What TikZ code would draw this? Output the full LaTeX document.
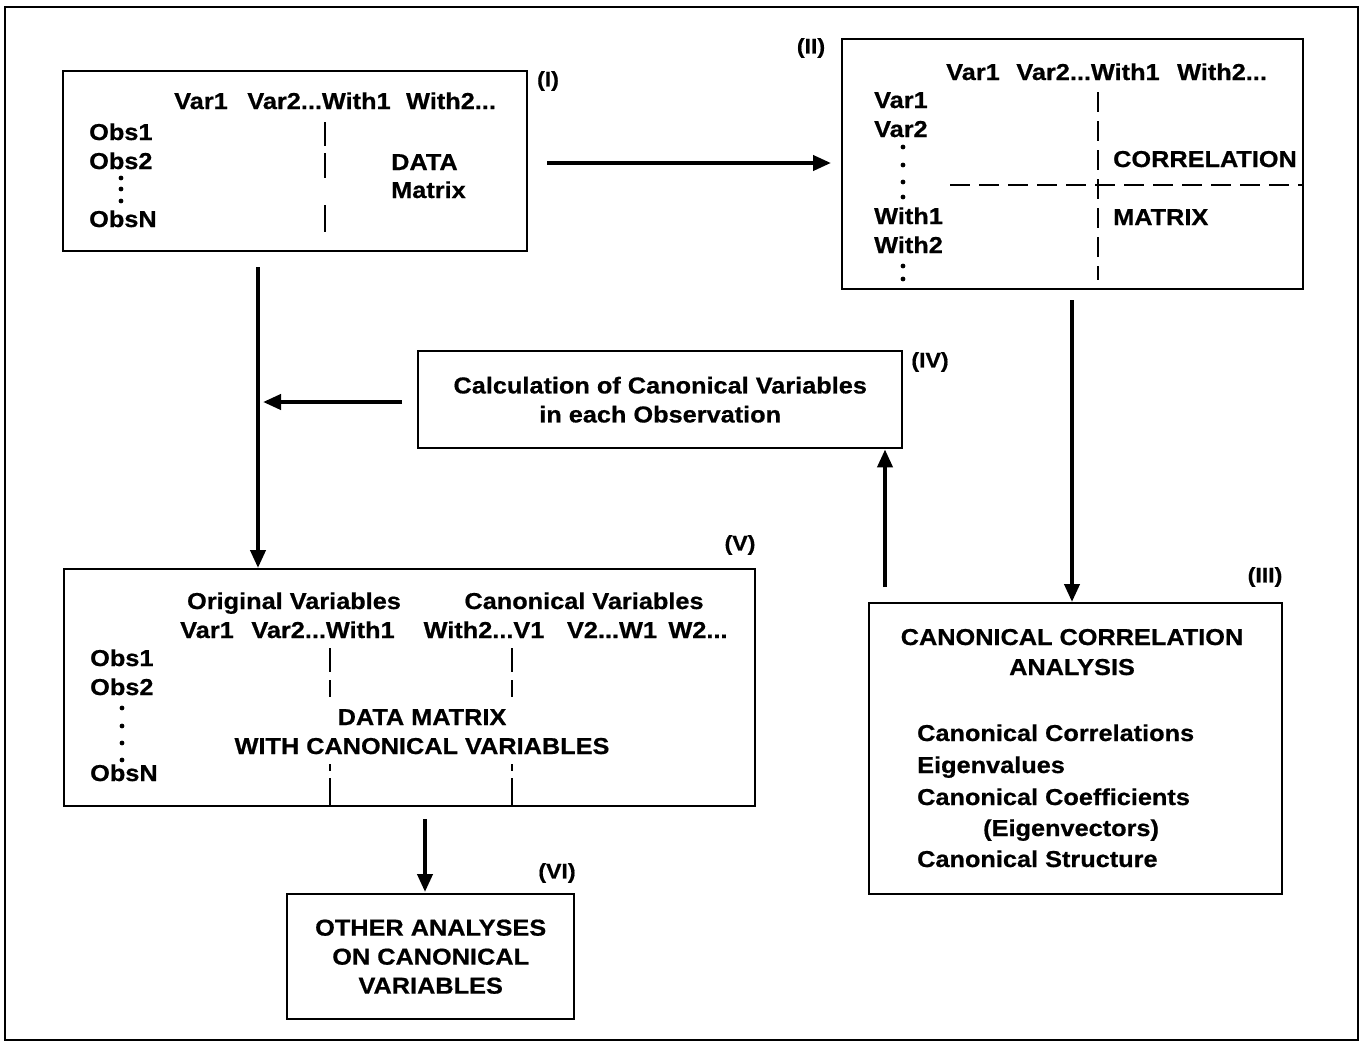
\documentclass[tikz,border=0pt]{standalone}
\usepackage{fontspec}
\setmainfont{Liberation Sans}[FakeStretch=1.1, BoldFeatures={FakeBold=0.7}]
\usetikzlibrary{arrows.meta}
\begin{document}
\begin{tikzpicture}[x=1pt,y=-1pt,
  box/.style={draw, line width=2.4pt, anchor=north west, inner sep=0pt},
  txt/.style={font=\bfseries\fontsize{23}{29}\selectfont, inner sep=0pt},
  lbl/.style={font=\bfseries\fontsize{21}{24}\selectfont, inner sep=0pt},
  lt/.style={txt, anchor=base west},
  ct/.style={txt, anchor=base},
  arr/.style={line width=4pt, -{Triangle[length=18pt,width=15pt]}},
  dl/.style={line width=2.4pt},
  dsh/.style={line width=2.4pt, dash pattern=on 20pt off 9pt}]
\useasboundingbox (0,0) rectangle (1363,1045);
\draw[line width=2.2pt] (5,7) rectangle (1358,1040);

% ---------- boxes ----------
\node[box, minimum width=464pt, minimum height=180pt] (b1) at (62,70) {};
\node[box, minimum width=461pt, minimum height=250pt] (b2) at (841,38) {};
\node[box, minimum width=413pt, minimum height=291pt] (b3) at (868,602) {};
\node[box, txt, align=center, minimum width=484pt, minimum height=97pt] (b4) at (417,350)
  {Calculation of Canonical Variables\\in each Observation};
\node[box, minimum width=691pt, minimum height=237pt] (b5) at (63,568) {};
\node[box, txt, align=center, minimum width=287pt, minimum height=125pt] (b6) at (286,893)
  {OTHER ANALYSES\\ON CANONICAL\\VARIABLES};

% ---------- labels ----------
\node[lbl] (l1) at (548,81) {(I)};
\node[lbl] (l2) at (811,48) {(II)};
\node[lbl] (l3) at (1265,577) {(III)};
\node[lbl] (l4) at (930,362) {(IV)};
\node[lbl] (l5) at (740,545) {(V)};
\node[lbl] (l6) at (557,873) {(VI)};

% ---------- box I ----------
\node[ct] (i1) at (201,109) {Var1};
\node[ct] (i2) at (319,109) {Var2...With1};
\node[ct] (i3) at (451,109) {With2...};
\node[lt] (i4) at (89,140) {Obs1};
\node[lt] (i5) at (89,169) {Obs2};
\node[lt] (i6) at (89,227) {ObsN};
\node[lt] (i7) at (391,170) {DATA};
\node[lt] (i8) at (391,198) {Matrix};
\fill (121,178) circle (2.4pt) (121,189) circle (2.4pt) (121,201) circle (2.4pt);
\draw[dl] (325,122) -- (325,146) (325,153) -- (325,178) (325,205) -- (325,232);

% ---------- box II ----------
\node[ct] (j1) at (973,80) {Var1};
\node[ct] (j2) at (1088,80) {Var2...With1};
\node[ct] (j3) at (1222,80) {With2...};
\node[lt] (j4) at (874,108) {Var1};
\node[lt] (j5) at (874,137) {Var2};
\node[lt] (j6) at (874,224) {With1};
\node[lt] (j7) at (874,253) {With2};
\node[lt] (j8) at (1113,167) {CORRELATION};
\node[lt] (j9) at (1113,225) {MATRIX};
\fill (903,147) circle (2.4pt) (903,165) circle (2.4pt) (903,182) circle (2.4pt)
      (903,197) circle (2.4pt) (903,266) circle (2.4pt) (903,279) circle (2.4pt);
\draw[dsh] (1098,92) -- (1098,280);
\draw[dsh] (950,185) -- (1302,185);

% ---------- box III ----------
\node[ct] (k1) at (1072,645) {CANONICAL CORRELATION};
\node[ct] (k2) at (1072,675) {ANALYSIS};
\node[lt] (k3) at (917,741) {Canonical Correlations};
\node[lt] (k4) at (917,773) {Eigenvalues};
\node[lt] (k5) at (917,805) {Canonical Coefficients};
\node[lt] (k6) at (983,836) {(Eigenvectors)};
\node[lt] (k7) at (917,867) {Canonical Structure};

% ---------- box V ----------
\node[ct] (m1) at (294,609) {Original Variables};
\node[ct] (m2) at (584,609) {Canonical Variables};
\node[ct] (m3) at (207,638) {Var1};
\node[ct] (m4) at (323,638) {Var2...With1};
\node[ct] (m5) at (484,638) {With2...V1};
\node[ct] (m6) at (612,638) {V2...W1};
\node[ct] (m7) at (698,638) {W2...};
\node[lt] (m8) at (90,666) {Obs1};
\node[lt] (m9) at (90,695) {Obs2};
\node[lt] (m10) at (90,781) {ObsN};
\node[ct] (m11) at (422,725) {DATA MATRIX};
\node[ct] (m12) at (422,754) {WITH CANONICAL VARIABLES};
\fill (122,708) circle (2.4pt) (122,726) circle (2.4pt) (122,743) circle (2.4pt) (122,760) circle (2.4pt);
\draw[dl] (330,648) -- (330,672) (330,680) -- (330,697) (330,764) -- (330,771) (330,778) -- (330,805);
\draw[dl] (512,648) -- (512,672) (512,680) -- (512,697) (512,764) -- (512,771) (512,778) -- (512,805);

% ---------- connectors ----------
\coordinate (xa) at (258,0);
\coordinate (ya) at (0,163);
\coordinate (xb) at (1072,0);
\coordinate (xc) at (885,0);
\coordinate (yd) at (0,402);
\coordinate (xe) at (425,0);
\draw[arr, shorten <=15pt] (xa |- b1.south) -- (xa |- b5.north);
\draw[arr, shorten <=19pt, shorten >=10pt] (b1.east |- ya) -- (b2.west |- ya);
\draw[arr, shorten <=10pt] (xb |- b2.south) -- (xb |- b3.north);
\draw[arr, shorten <=15pt] (xc |- b3.north) -- (xc |- b4.south);
\draw[arr, shorten <=15pt, shorten >=5pt] (b4.west |- yd) -- (xa |- yd);
\draw[arr, shorten <=12pt, shorten >=1pt] (xe |- b5.south) -- (xe |- b6.north);
\end{tikzpicture}
\end{document}
